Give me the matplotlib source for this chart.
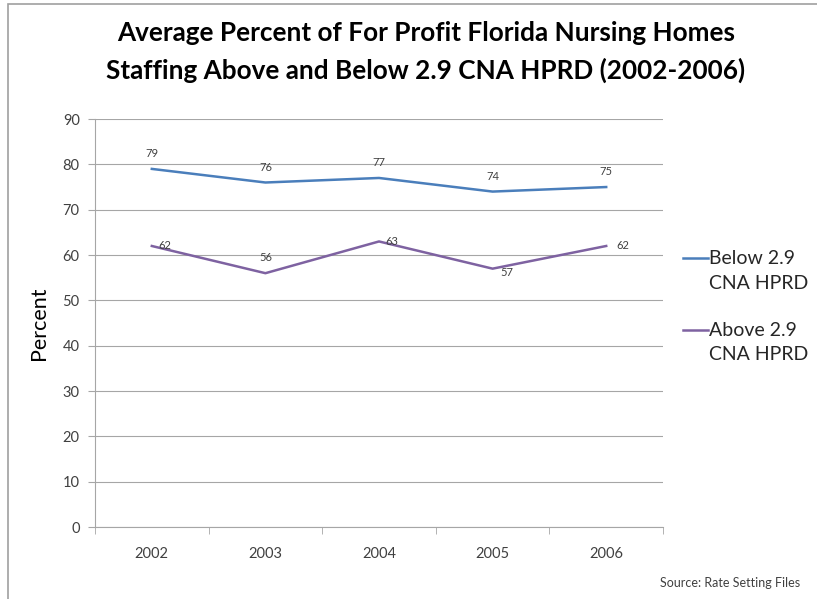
import matplotlib.pyplot as plt
from matplotlib.lines import Line2D
from matplotlib.patches import Rectangle


YEARS = ["2002", "2003", "2004", "2005", "2006"]
BELOW_29 = [79, 76, 77, 74, 75]
ABOVE_29 = [62, 56, 63, 57, 62]
SERIES_NAMES = [("Below 2.9", "CNA HPRD"), ("Above 2.9", "CNA HPRD")]

# label offsets (points) for the purple series, Excel placed them unevenly
ABOVE_OFFSETS = [(9, 0), (0, 11), (9, 0), (10, -3), (12, 0)]

BLUE = "#4A7EBB"
PURPLE = "#7E62A1"
GRID = "#A6A6A6"
TEXT = "#404040"

plt.rcParams["font.family"] = ["Lato", "DejaVu Sans"]


def main():
    figure = plt.figure(figsize=(8.17, 5.99), dpi=100)
    axis = figure.add_axes([0.1163, 0.120, 0.6952, 0.6813])

    x = list(range(len(YEARS)))
    axis.plot(x, BELOW_29, color=BLUE, linewidth=1.8)
    axis.plot(x, ABOVE_29, color=PURPLE, linewidth=1.8)

    for xi, value in zip(x, BELOW_29):
        axis.annotate(str(value), (xi, value), xytext=(0, 11), textcoords="offset points",
                      ha="center", va="center", fontsize=8, color=TEXT)
    for xi, value, offset in zip(x, ABOVE_29, ABOVE_OFFSETS):
        axis.annotate(str(value), (xi, value), xytext=offset, textcoords="offset points",
                      ha="center", va="center", fontsize=8, color=TEXT)

    axis.set_xlim(-0.5, len(YEARS) - 0.5)
    axis.set_ylim(0, 90)
    axis.set_yticks(range(0, 91, 10))
    axis.set_xticks(x)
    axis.set_xticklabels(YEARS)
    axis.set_xticks([i - 0.5 for i in range(len(YEARS) + 1)], minor=True)
    axis.tick_params(axis="x", which="major", length=0, pad=14, labelsize=10.5, labelcolor=TEXT)
    axis.tick_params(axis="x", which="minor", length=5, color=GRID)
    axis.tick_params(axis="y", length=5, color=GRID, labelsize=10.5, labelcolor=TEXT, pad=6)

    axis.grid(True, axis="y", color=GRID, linewidth=0.8)
    axis.set_axisbelow(True)
    for side in ["top", "right"]:
        axis.spines[side].set_visible(False)
    for side in ["left", "bottom"]:
        axis.spines[side].set_color(GRID)

    axis.set_ylabel("Percent", fontsize=15.5, color="black", labelpad=10)

    # legend drawn by hand so the line sits next to the first text row, like Excel does
    legend_rows = [1 - 258 / 599, 1 - 330 / 599]
    for (first, second), color, y in zip(SERIES_NAMES, [BLUE, PURPLE], legend_rows):
        figure.add_artist(Line2D([683 / 817, 708 / 817], [y, y], color=color, linewidth=1.8,
                                 transform=figure.transFigure))
        figure.text(709 / 817, y, first, ha="left", va="center", fontsize=14, color="#262626")
        figure.text(709 / 817, y - 25 / 599, second, ha="left", va="center", fontsize=14,
                    color="#262626")

    figure.text(0.521, 0.945, "Average Percent of For Profit Florida Nursing Homes",
                ha="center", va="center", fontsize=18.8, fontweight="bold")
    figure.text(0.521, 0.883, "Staffing Above and Below 2.9 CNA HPRD (2002-2006)",
                ha="center", va="center", fontsize=18.8, fontweight="bold")
    figure.text(0.979, 0.027, "Source: Rate Setting Files", ha="right", va="center",
                fontsize=9, color=TEXT)

    # the chart frame runs off the right and bottom edge in the reference
    figure.patches.append(Rectangle((0.0098, -0.05), 1.2, 1.043, transform=figure.transFigure,
                                    fill=False, edgecolor="#A0A0A0", linewidth=1.2))

    figure.savefig("out.png", dpi=100)
    plt.close(figure)


if __name__ == "__main__":
    main()
